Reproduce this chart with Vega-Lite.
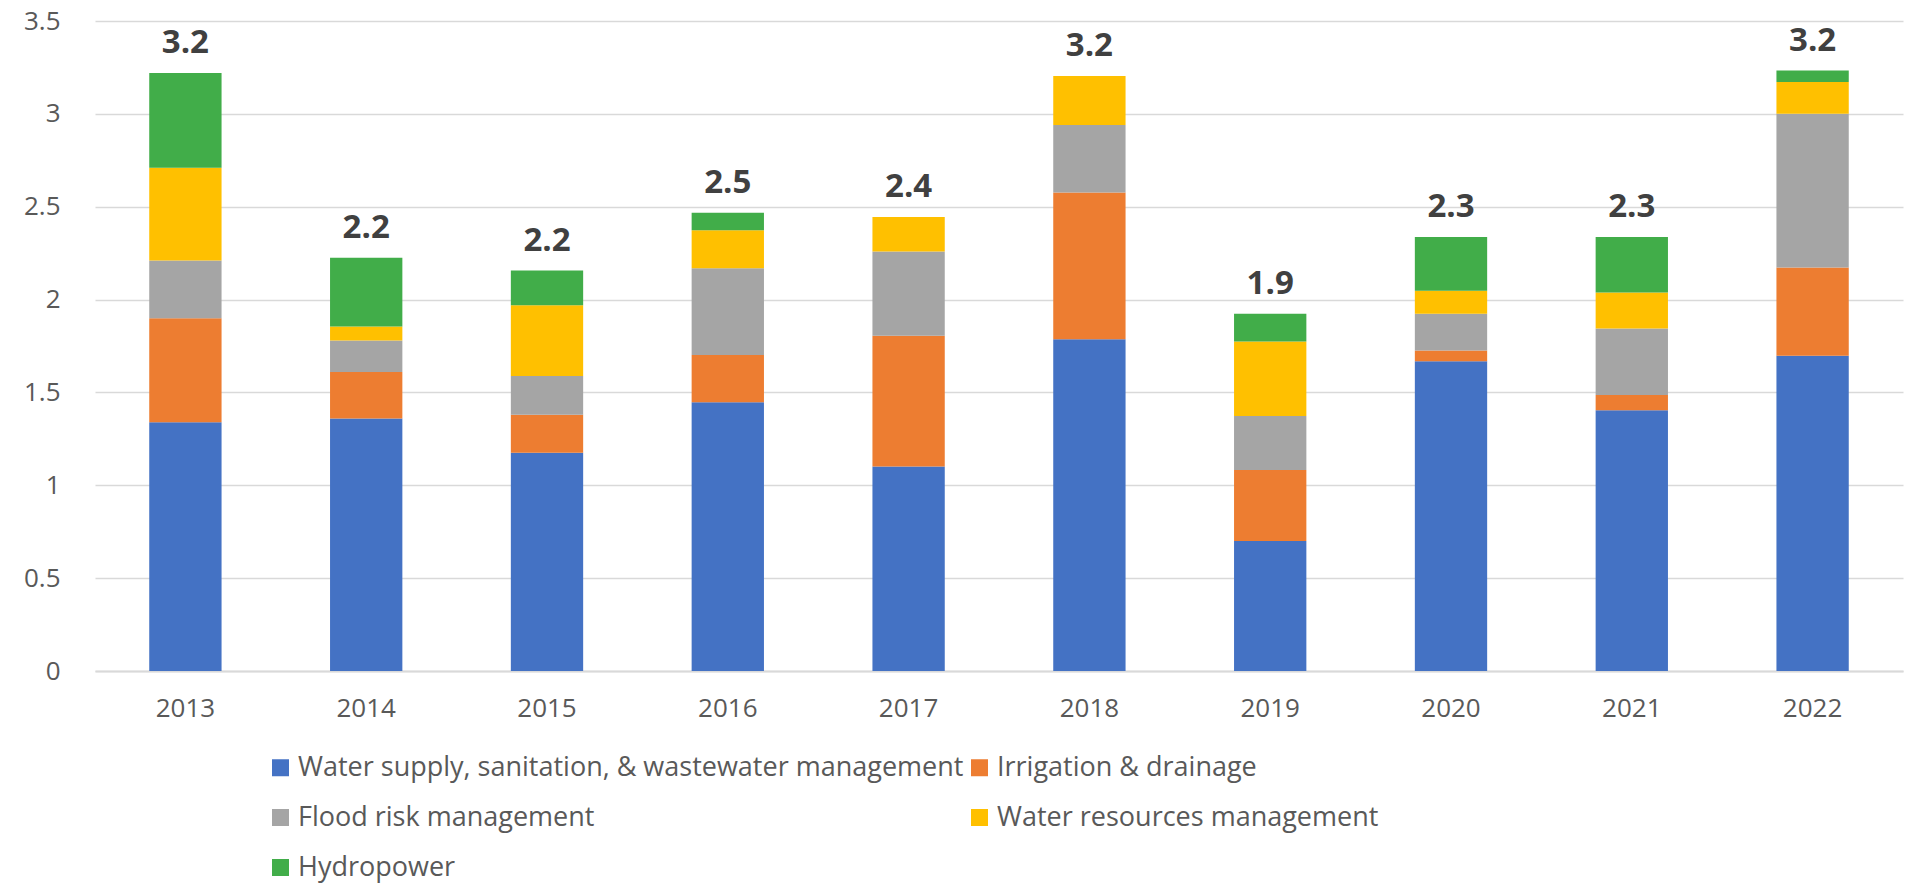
{
  "$schema": "https://vega.github.io/schema/vega-lite/v6.json",
  "width": 1808,
  "height": 650,
  "autosize": {"type": "none"},
  "padding": {"left": 95, "top": 21, "right": 13, "bottom": 212},
  "background": "white",
  "config": {
    "font": "Open Sans",
    "view": {"stroke": null},
    "axis": {"title": null, "labelFont": "Open Sans", "labelFontSize": 26, "labelColor": "#595959", "ticks": false}
  },
  "data": {
    "values": [
      {"year": "2013", "sector": "Water supply, sanitation, & wastewater management", "idx": 1, "value": 1.34},
      {"year": "2013", "sector": "Irrigation & drainage", "idx": 2, "value": 0.56},
      {"year": "2013", "sector": "Flood risk management", "idx": 3, "value": 0.31},
      {"year": "2013", "sector": "Water resources management", "idx": 4, "value": 0.50},
      {"year": "2013", "sector": "Hydropower", "idx": 5, "value": 0.51},
      {"year": "2014", "sector": "Water supply, sanitation, & wastewater management", "idx": 1, "value": 1.36},
      {"year": "2014", "sector": "Irrigation & drainage", "idx": 2, "value": 0.25},
      {"year": "2014", "sector": "Flood risk management", "idx": 3, "value": 0.17},
      {"year": "2014", "sector": "Water resources management", "idx": 4, "value": 0.075},
      {"year": "2014", "sector": "Hydropower", "idx": 5, "value": 0.37},
      {"year": "2015", "sector": "Water supply, sanitation, & wastewater management", "idx": 1, "value": 1.175},
      {"year": "2015", "sector": "Irrigation & drainage", "idx": 2, "value": 0.205},
      {"year": "2015", "sector": "Flood risk management", "idx": 3, "value": 0.209},
      {"year": "2015", "sector": "Water resources management", "idx": 4, "value": 0.38},
      {"year": "2015", "sector": "Hydropower", "idx": 5, "value": 0.187},
      {"year": "2016", "sector": "Water supply, sanitation, & wastewater management", "idx": 1, "value": 1.447},
      {"year": "2016", "sector": "Irrigation & drainage", "idx": 2, "value": 0.255},
      {"year": "2016", "sector": "Flood risk management", "idx": 3, "value": 0.466},
      {"year": "2016", "sector": "Water resources management", "idx": 4, "value": 0.205},
      {"year": "2016", "sector": "Hydropower", "idx": 5, "value": 0.094},
      {"year": "2017", "sector": "Water supply, sanitation, & wastewater management", "idx": 1, "value": 1.101},
      {"year": "2017", "sector": "Irrigation & drainage", "idx": 2, "value": 0.704},
      {"year": "2017", "sector": "Flood risk management", "idx": 3, "value": 0.454},
      {"year": "2017", "sector": "Water resources management", "idx": 4, "value": 0.185},
      {"year": "2017", "sector": "Hydropower", "idx": 5, "value": 0},
      {"year": "2018", "sector": "Water supply, sanitation, & wastewater management", "idx": 1, "value": 1.786},
      {"year": "2018", "sector": "Irrigation & drainage", "idx": 2, "value": 0.791},
      {"year": "2018", "sector": "Flood risk management", "idx": 3, "value": 0.363},
      {"year": "2018", "sector": "Water resources management", "idx": 4, "value": 0.264},
      {"year": "2018", "sector": "Hydropower", "idx": 5, "value": 0},
      {"year": "2019", "sector": "Water supply, sanitation, & wastewater management", "idx": 1, "value": 0.70},
      {"year": "2019", "sector": "Irrigation & drainage", "idx": 2, "value": 0.382},
      {"year": "2019", "sector": "Flood risk management", "idx": 3, "value": 0.291},
      {"year": "2019", "sector": "Water resources management", "idx": 4, "value": 0.401},
      {"year": "2019", "sector": "Hydropower", "idx": 5, "value": 0.149},
      {"year": "2020", "sector": "Water supply, sanitation, & wastewater management", "idx": 1, "value": 1.668},
      {"year": "2020", "sector": "Irrigation & drainage", "idx": 2, "value": 0.058},
      {"year": "2020", "sector": "Flood risk management", "idx": 3, "value": 0.197},
      {"year": "2020", "sector": "Water resources management", "idx": 4, "value": 0.125},
      {"year": "2020", "sector": "Hydropower", "idx": 5, "value": 0.289},
      {"year": "2021", "sector": "Water supply, sanitation, & wastewater management", "idx": 1, "value": 1.404},
      {"year": "2021", "sector": "Irrigation & drainage", "idx": 2, "value": 0.082},
      {"year": "2021", "sector": "Flood risk management", "idx": 3, "value": 0.358},
      {"year": "2021", "sector": "Water resources management", "idx": 4, "value": 0.194},
      {"year": "2021", "sector": "Hydropower", "idx": 5, "value": 0.299},
      {"year": "2022", "sector": "Water supply, sanitation, & wastewater management", "idx": 1, "value": 1.697},
      {"year": "2022", "sector": "Irrigation & drainage", "idx": 2, "value": 0.476},
      {"year": "2022", "sector": "Flood risk management", "idx": 3, "value": 0.827},
      {"year": "2022", "sector": "Water resources management", "idx": 4, "value": 0.171},
      {"year": "2022", "sector": "Hydropower", "idx": 5, "value": 0.062}
    ]
  },
  "layer": [
    {
      "mark": {"type": "bar"},
      "encoding": {
        "x": {
          "field": "year", "type": "nominal", "sort": null,
          "scale": {"paddingInner": 0.6, "paddingOuter": 0.3},
          "axis": {"labelAngle": 0, "domain": true, "domainColor": "#d9d9d9", "domainWidth": 2, "grid": false, "labelPadding": 24}
        },
        "y": {
          "field": "value", "type": "quantitative", "stack": "zero",
          "scale": {"domain": [0, 3.5], "nice": false},
          "axis": {"values": [0, 0.5, 1, 1.5, 2, 2.5, 3, 3.5], "format": "~g", "domain": false, "grid": true, "gridColor": "#d9d9d9", "gridWidth": 1.5, "labelPadding": 35, "labelFlush": false}
        },
        "color": {
          "field": "sector", "type": "nominal",
          "scale": {
            "domain": ["Water supply, sanitation, & wastewater management", "Irrigation & drainage", "Flood risk management", "Water resources management", "Hydropower"],
            "range": ["#4472C4", "#ED7D31", "#A5A5A5", "#FFC000", "#41AD49"]
          },
          "legend": {
            "title": null, "orient": "none", "legendX": 172, "legendY": 733,
            "columns": 2, "direction": "horizontal",
            "symbolType": "square", "symbolSize": 289, "symbolStrokeWidth": 0,
            "labelFont": "Open Sans", "labelFontSize": 27, "labelColor": "#595959", "labelOffset": 4, "labelLimit": 1000,
            "rowPadding": 22, "columnPadding": 2, "padding": 0
          }
        },
        "order": {"field": "idx", "type": "quantitative", "sort": "ascending"}
      }
    },
    {
      "transform": [{"aggregate": [{"op": "sum", "field": "value", "as": "total"}], "groupby": ["year"]}],
      "mark": {"type": "text", "font": "Open Sans", "fontWeight": "bold", "fontSize": 33, "color": "#404040", "baseline": "alphabetic", "dy": -20},
      "encoding": {
        "x": {"field": "year", "type": "nominal", "sort": null},
        "y": {"field": "total", "type": "quantitative"},
        "text": {"field": "total", "type": "quantitative", "format": ".1f"}
      }
    }
  ]
}
